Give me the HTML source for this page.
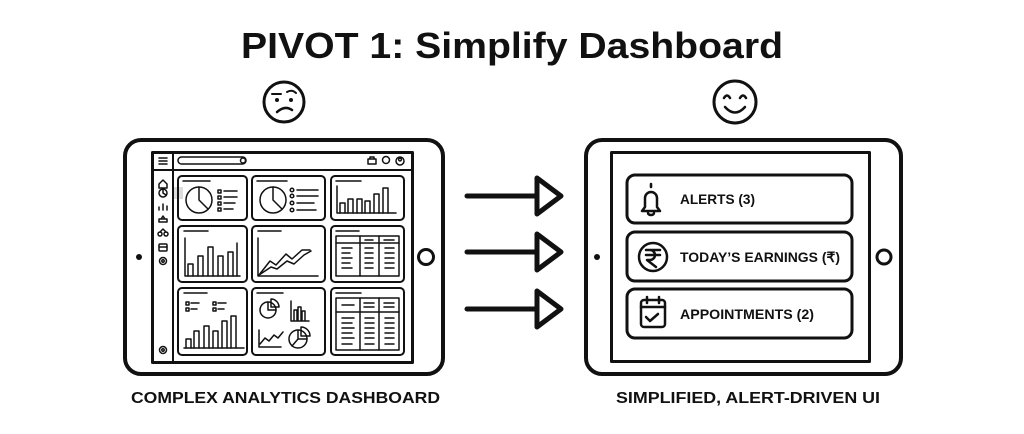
<!DOCTYPE html>
<html><head><meta charset="utf-8"><style>
html,body{margin:0;padding:0;background:#fff;width:1024px;height:434px;overflow:hidden}
svg{display:block}
text{font-family:"Liberation Sans",sans-serif;font-weight:bold;fill:#111}
</style></head><body>
<svg width="1024" height="434" viewBox="0 0 1024 434" xmlns="http://www.w3.org/2000/svg">
<g fill="none" stroke="#111" stroke-linecap="round" stroke-linejoin="round">
<text x="512" y="58" text-anchor="middle" font-size="36" textLength="542" lengthAdjust="spacingAndGlyphs" stroke="none">PIVOT 1: Simplify Dashboard</text>

<!-- faces -->
<circle cx="284" cy="102" r="20" stroke-width="3"/>
<circle cx="277" cy="100" r="2" fill="#111" stroke="none"/><circle cx="291" cy="100" r="2" fill="#111" stroke="none"/>
<path d="M272 94 L281 94 M287 92 Q292 89 296 93" stroke-width="2"/>
<path d="M277 112 Q285 105 292 110" stroke-width="2.5"/>
<circle cx="735" cy="102" r="21" stroke-width="3"/>
<path d="M724 98 Q727 93 730 98 M740 98 Q743 93 746 98" stroke-width="2.5"/>
<path d="M725 107 Q735 118 745 107" stroke-width="2.5"/>

<!-- left tablet -->
<rect x="125" y="140" width="318" height="234" rx="16" stroke-width="4"/>
<rect x="152.5" y="152.5" width="260" height="210" stroke-width="3"/>
<circle cx="139" cy="257" r="3" fill="#111" stroke="none"/>
<circle cx="426" cy="257" r="7.5" stroke-width="3"/>
<line x1="173" y1="153" x2="173" y2="362" stroke-width="2"/>
<line x1="153" y1="170" x2="412" y2="170" stroke-width="2"/>
<rect x="174" y="187" width="9" height="12" fill="#ddd" stroke="none"/>
<g stroke-width="1.5">
<path d="M159 158h8M159 161h8M159 164h8"/>
<rect x="178" y="157" width="68" height="7" rx="3.5"/>
<circle cx="243" cy="160.5" r="2.5"/>
<path d="M368 164h8v-5h-8z M370 159v-2h4v2"/>
<circle cx="386" cy="160" r="3.5"/><circle cx="400" cy="161" r="4"/><circle cx="400" cy="159.5" r="1.4"/>
<path d="M159 184l4-4 4 4v4h-8z"/>
<circle cx="163" cy="193" r="4"/><path d="M163 193v-4M163 193l3 2"/>
<path d="M159 210v-3M163 210v-6M167 210v-4"/>
<path d="M159 222h8v-3h-8z M161 219l2-3 2 3"/>
<circle cx="160" cy="234" r="2"/><circle cx="166" cy="234" r="2"/><path d="M160 232l3-3 3 3"/>
<rect x="159" y="244" width="8" height="7" rx="1"/><path d="M159 247h8"/>
<circle cx="163" cy="261" r="3.5"/><circle cx="163" cy="261" r="1.2"/>
<circle cx="163" cy="350" r="3.5"/><circle cx="163" cy="350" r="1.2"/>
</g>
<g stroke-width="2">
<rect x="178" y="176" width="69" height="44" rx="4"/>
<rect x="252" y="176" width="73" height="44" rx="4"/>
<rect x="331" y="176" width="73" height="44" rx="4"/>
<rect x="178" y="226" width="69" height="56" rx="4"/>
<rect x="252" y="226" width="73" height="56" rx="4"/>
<rect x="331" y="226" width="73" height="56" rx="4"/>
<rect x="178" y="288" width="69" height="67" rx="4"/>
<rect x="252" y="288" width="73" height="67" rx="4"/>
<rect x="331" y="288" width="73" height="67" rx="4"/>
</g>
<g stroke-width="1.5">
<!-- c1 -->
<path d="M183 181h27"/>
<circle cx="199" cy="200" r="13"/><path d="M199 187v13l9 9"/>
<rect x="218" y="190" width="3" height="3"/><rect x="218" y="196" width="3" height="3"/><rect x="218" y="202" width="3" height="3"/><rect x="218" y="208" width="3" height="3"/>
<path d="M224 191h13M224 197h13M224 203h11M224 209h9"/>
<!-- c2 -->
<path d="M257 181h30"/>
<circle cx="273" cy="200" r="13"/><path d="M273 187v13l9 9"/>
<circle cx="292" cy="190" r="1.8"/><circle cx="292" cy="196" r="1.8"/><circle cx="292" cy="203" r="1.8"/><circle cx="292" cy="210" r="1.8"/>
<path d="M297 190h21M297 196h21M297 203h17M297 210h19"/>
<!-- c3 -->
<path d="M336 181h25"/>
<path d="M337 186v27h59"/>
<path d="M340 213v-10h5v10M348 213v-14h5v14M357 213v-14h5v14M365 213v-12h5v12M374 213v-19h5v19M383 213v-25h5v25"/>
<!-- c4 -->
<path d="M184 231h24"/>
<path d="M185 238v38h55"/>
<path d="M188 276v-12h5v12M198 276v-20h5v20M208 276v-29h5v29M218 276v-20h5v20M228 276v-24h5v24M237 276v-33"/>
<!-- c5 -->
<path d="M258 231h23"/>
<path d="M258 238v38h60"/>
<path d="M259 275l11-14 6 4 10-11 6 5 10-9 8 0"/>
<path d="M259 275l12-8 6 2 10-8 7 3 10-9 7-4"/>
<!-- c6 -->
<path d="M336 231h23"/>
<rect x="336" y="236" width="63" height="40"/>
<path d="M336 243h63M360 236v40M379 236v40"/>
<path d="M342 248h10M342 253h8M342 258h10M342 263h8M342 268h10M365 240h8M384 240h10M365 248h8M365 253h8M365 258h8M365 263h8M365 268h8M385 248h9M385 253h9M385 258h9M385 263h9M385 268h9"/>
<!-- c7 -->
<path d="M184 293h23"/>
<rect x="186" y="302" width="3" height="3"/><rect x="186" y="308" width="3" height="3"/><path d="M191 303h8M191 309h6"/>
<rect x="213" y="302" width="3" height="3"/><rect x="213" y="308" width="3" height="3"/><path d="M218 303h8M218 309h6"/>
<path d="M184 348h60"/>
<path d="M186 348v-9h5v9M194 348v-17h5v17M204 348v-22h5v22M213 348v-17h5v17M222 348v-27h5v27M231 348v-32h5v32"/>
<!-- c8 -->
<path d="M257 293h26"/>
<circle cx="268" cy="310" r="8"/><path d="M268 302v8h8 M271 299v8h8a8 8 0 0 0-8-8z"/>
<path d="M291 301v20h18M294 321v-11h3v11M298 321v-14h3v14M302 321v-10h3v10"/>
<path d="M259 330v17h22M260 344l5-6 4 3 5-6 4 3 5-6"/>
<circle cx="298" cy="339" r="9"/><path d="M298 330v9h9M301 327v9h9a9 9 0 0 0-9-9z M298 339l-6 7"/>
<!-- c9 -->
<path d="M336 293h25"/>
<rect x="336" y="298" width="63" height="52"/>
<path d="M336 312h63M360 298v52M379 298v52"/>
<path d="M342 305h12M364 303h10M364 307h10M384 303h10M384 307h10M342 318h12M342 323h10M342 328h12M342 333h10M342 338h12M342 344h10M365 318h9M365 323h9M365 328h9M365 333h9M365 338h9M365 344h9M385 318h9M385 323h9M385 328h9M385 333h9M385 338h9M385 344h9"/>
</g>

<!-- arrows -->
<g stroke-width="5">
<path d="M467 196h70M467 252h70M467 309h70"/>
<path d="M537 178l24 18-24 18z M537 234l24 18-24 18z M537 291l24 18-24 18z" fill="#fff"/>
</g>

<!-- right tablet -->
<rect x="586" y="140" width="315" height="234" rx="16" stroke-width="4"/>
<rect x="611.5" y="152.5" width="258" height="209" stroke-width="3"/>
<circle cx="597" cy="257" r="3" fill="#111" stroke="none"/>
<circle cx="884" cy="257" r="7" stroke-width="3"/>
<g stroke-width="3">
<rect x="627" y="175" width="225" height="48" rx="8"/>
<rect x="627" y="232" width="225" height="49" rx="8"/>
<rect x="627" y="289" width="225" height="49" rx="8"/>
</g>
<g stroke-width="2.5">
<path d="M642 211h18l-3-4v-9a6 6 0 0 0-12 0v9z M648 213a3 2 0 0 0 6 0 M651 186v0"/>
<path d="M651 184v3"/>
<circle cx="653" cy="257" r="14"/>
<path d="M646 250h14M646 255h14M650 250a4 4 0 0 1 0 10h-3l9 7"/>
<rect x="641" y="300" width="24" height="27" rx="3"/>
<path d="M641 307h24M647 297v6M659 297v6M646 317l4 4 8-7"/>
</g>
<g stroke="none">
<text x="680" y="204" font-size="14" textLength="75" lengthAdjust="spacingAndGlyphs">ALERTS (3)</text>
<text x="680" y="262" font-size="14" textLength="160" lengthAdjust="spacingAndGlyphs">TODAY’S EARNINGS (₹)</text>
<text x="680" y="319" font-size="14" textLength="134" lengthAdjust="spacingAndGlyphs">APPOINTMENTS (2)</text>
<text x="131" y="403" font-size="16" textLength="309" lengthAdjust="spacingAndGlyphs">COMPLEX ANALYTICS DASHBOARD</text>
<text x="616" y="403" font-size="16" textLength="264" lengthAdjust="spacingAndGlyphs">SIMPLIFIED, ALERT-DRIVEN UI</text>
</g>
</g>
</svg>
</body></html>
